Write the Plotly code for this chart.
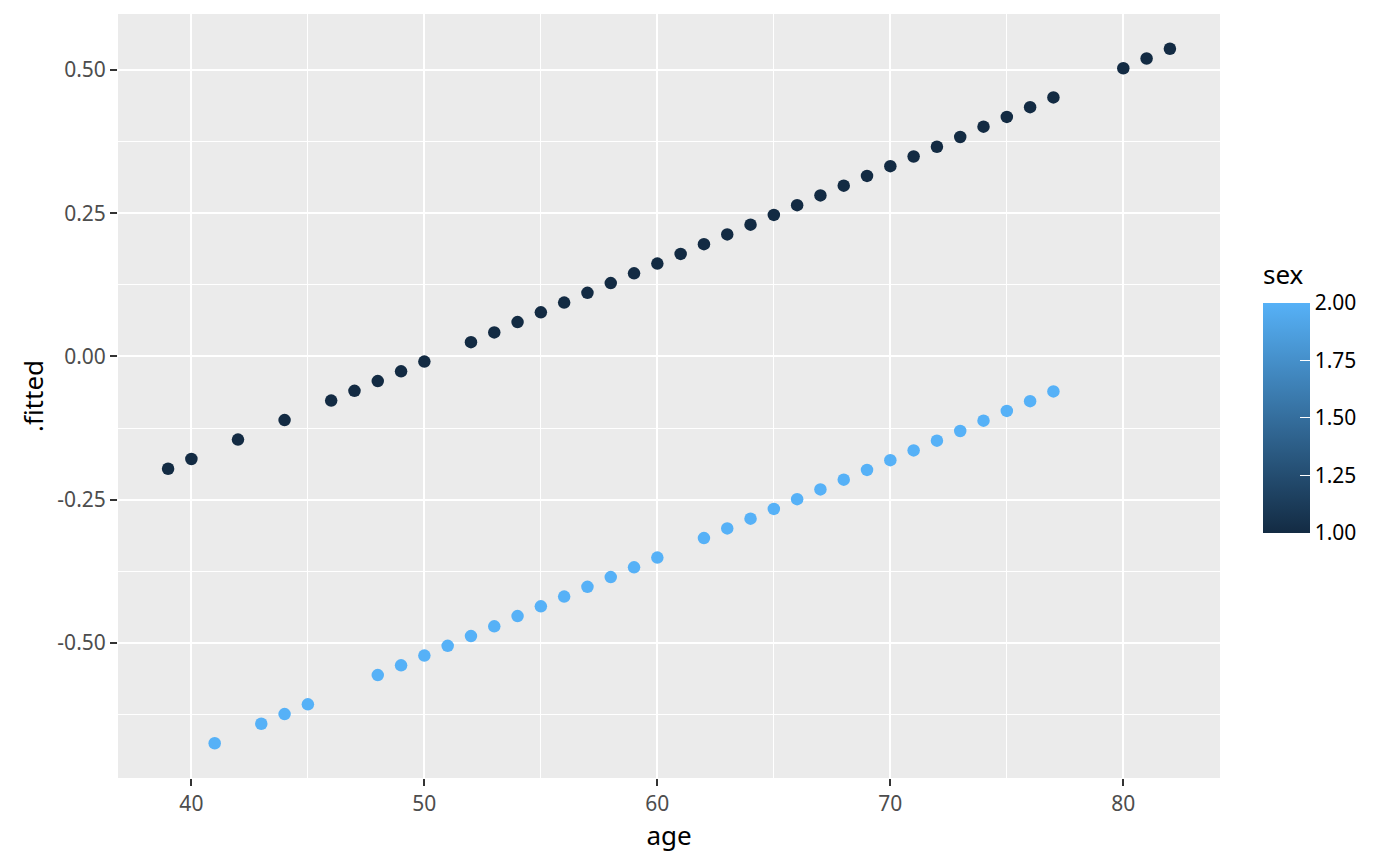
import plotly.graph_objects as go

# values
male_age = [39, 40, 42, 44, 46, 47, 48, 49, 50, 52, 53, 54, 55, 56, 57, 58, 59,
            60, 61, 62, 63, 64, 65, 66, 67, 68, 69, 70, 71, 72, 73, 74, 75, 76,
            77, 80, 81, 82]
male_fitted = [-0.196, -0.179, -0.145, -0.111, -0.077, -0.060, -0.043, -0.026,
               -0.009, 0.025, 0.042, 0.060, 0.077, 0.094, 0.111, 0.128, 0.145,
               0.162, 0.179, 0.196, 0.213, 0.230, 0.247, 0.264, 0.281, 0.298,
               0.315, 0.332, 0.349, 0.366, 0.383, 0.401, 0.418, 0.435, 0.452,
               0.503, 0.520, 0.537]

female_age = [41, 43, 44, 45, 48, 49, 50, 51, 52, 53, 54, 55, 56, 57, 58, 59, 60,
              62, 63, 64, 65, 66, 67, 68, 69, 70, 71, 72, 73, 74, 75, 76, 77]
female_fitted = [-0.675, -0.641, -0.624, -0.607, -0.556, -0.539, -0.522, -0.505,
                 -0.488, -0.471, -0.453, -0.436, -0.419, -0.402, -0.385, -0.368,
                 -0.351, -0.317, -0.300, -0.283, -0.266, -0.249, -0.232, -0.215,
                 -0.198, -0.181, -0.164, -0.147, -0.130, -0.112, -0.095, -0.078,
                 -0.061]

x_ticks = [40, 50, 60, 70, 80]
y_ticks = [-0.50, -0.25, 0.00, 0.25, 0.50]
y_labels = ["-0.50", "-0.25", "0.00", "0.25", "0.50"]
cb_ticks = [1.00, 1.25, 1.50, 1.75, 2.00]
cb_labels = ["1.00", "1.25", "1.50", "1.75", "2.00"]

ages = male_age + female_age
fitted = male_fitted + female_fitted
sex = [1] * len(male_age) + [2] * len(female_age)

FONT = "Noto Sans"
GRAY_TXT = "#4D4D4D"
TICK_SIZE = 21
TITLE_SIZE = 26

fig = go.Figure()

fig.add_trace(go.Scatter(
    x=ages, y=fitted, mode="markers",
    marker=dict(
        size=12.5, color=sex, cmin=1, cmax=2,
        colorscale=[[0, "#132B43"], [1, "#56B1F7"]],
        line=dict(width=0),
        colorbar=dict(
            title=dict(text="sex", side="top",
                       font=dict(size=TITLE_SIZE, color="black", family=FONT)),
            tickvals=cb_ticks, ticktext=cb_labels,
            tickfont=dict(size=TICK_SIZE, color="black", family=FONT),
            ticks="inside", ticklen=10, tickcolor="white", tickwidth=1.2,
            outlinewidth=0, thickness=47, len=271, lenmode="pixels",
            x=1.0, xref="paper", xanchor="left", xpad=43, ypad=0,
            y=0.3207, yanchor="bottom",
        ),
    ),
    showlegend=False,
))

fig.update_layout(
    width=1384, height=850,
    margin=dict(l=110, r=172, t=6, b=80, autoexpand=False),
    paper_bgcolor="white", plot_bgcolor="#EBEBEB",
    font=dict(family=FONT, color=GRAY_TXT),
)

fig.update_xaxes(
    range=[36.85, 84.15], tickvals=x_ticks, zeroline=False,
    showgrid=True, gridcolor="white", gridwidth=2.4,
    minor=dict(tickvals=[45, 55, 65, 75], showgrid=True, gridcolor="white", gridwidth=1.2),
    ticks="outside", ticklen=7, tickcolor="#333333", tickwidth=2.4,
    tickfont=dict(size=TICK_SIZE, color=GRAY_TXT),
    title=dict(text="age", font=dict(size=TITLE_SIZE, color="black"), standoff=3),
)
fig.update_yaxes(
    range=[-0.7356, 0.5976], tickvals=y_ticks, ticktext=y_labels, zeroline=False,
    showgrid=True, gridcolor="white", gridwidth=2.4,
    minor=dict(tickvals=[-0.625, -0.375, -0.125, 0.125, 0.375], showgrid=True,
               gridcolor="white", gridwidth=1.2),
    ticks="outside", ticklen=7, tickcolor="#333333", tickwidth=2.4,
    tickfont=dict(size=TICK_SIZE, color=GRAY_TXT),
    title=dict(text=".fitted", font=dict(size=TITLE_SIZE, color="black"), standoff=6),
)

fig.write_html("out.html")
